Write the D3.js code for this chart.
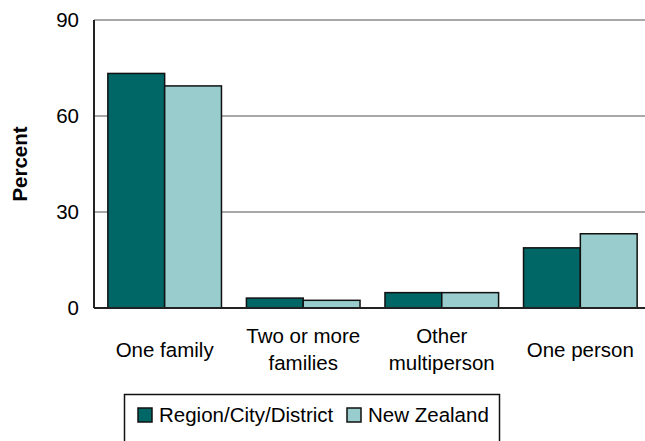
<script src="https://cdnjs.cloudflare.com/ajax/libs/d3/7.8.5/d3.min.js"></script>
<style>
	body {
	  margin: 0;
	  background: white;
	}
	svg text {
	  font-family: Arial, "Liberation Sans", sans-serif;
	  font-size: 20.5px;
	  fill: #000;
	}
</style>

<svg width="645" height="441"></svg>
<script>
	// data
	var categories = [["One family"], ["Two or more", "families"], ["Other", "multiperson"], ["One person"]];
	var seriesNames = ["Region/City/District", "New Zealand"];
	var regionValues = [73.3, 3.1, 4.8, 18.8];
	var nzValues = [69.4, 2.4, 4.8, 23.2];
	var yTicks = [0, 30, 60, 90];
	var colors = ["#006666", "#99cccc"];

	var svg = d3.select("svg");

	var plotLeft = 94, plotRight = 651, plotTop = 20, plotBottom = 308;

	var x = d3.scaleBand()
		.domain(d3.range(categories.length))
		.range([plotLeft, plotRight])
		.paddingInner(0.18)
		.paddingOuter(0.1);

	var xs = d3.scaleBand()
		.domain(d3.range(seriesNames.length))
		.range([0, x.bandwidth()]);

	var y = d3.scaleLinear()
		.domain([0, 90])
		.range([plotBottom, plotTop]);

	// gridlines
	svg.append("g")
		.selectAll("line")
		.data(yTicks.filter(function(d){ return d > 0; }))
		.enter().append("line")
		.attr("x1", plotLeft)
		.attr("x2", 645)
		.attr("y1", function(d){ return y(d); })
		.attr("y2", function(d){ return y(d); })
		.attr("stroke", "#a8a8a8")
		.attr("stroke-width", 2);

	// y axis
	var yAxis = svg.append("g")
		.attr("transform", "translate(" + plotLeft + ",0)")
		.call(d3.axisLeft(y).tickValues(yTicks).tickSize(0).tickPadding(15));
	yAxis.select(".domain").remove();
	yAxis.selectAll("text")
		.style("font-size", "20.5px")
		.style("font-family", "Arial, 'Liberation Sans', sans-serif")
		.attr("fill", "#222");

	svg.append("line")
		.attr("x1", plotLeft).attr("x2", plotLeft)
		.attr("y1", plotTop).attr("y2", plotBottom)
		.attr("stroke", "#222")
		.attr("stroke-width", 2);

	// bars
	var rows = categories.map(function(c, i){ return [regionValues[i], nzValues[i]]; });

	svg.append("g")
		.selectAll("g")
		.data(rows)
		.enter().append("g")
		.attr("transform", function(d, i){ return "translate(" + x(i) + ",0)"; })
		.selectAll("rect")
		.data(function(d){ return d; })
		.enter().append("rect")
		.attr("x", function(d, j){ return xs(j); })
		.attr("y", function(d){ return y(d); })
		.attr("width", xs.bandwidth())
		.attr("height", function(d){ return y(0) - y(d); })
		.attr("fill", function(d, j){ return colors[j]; })
		.attr("stroke", "#111")
		.attr("stroke-width", 1.5);

	// baseline
	svg.append("line")
		.attr("x1", plotLeft).attr("x2", 645)
		.attr("y1", plotBottom).attr("y2", plotBottom)
		.attr("stroke", "#222")
		.attr("stroke-width", 2);

	// category labels
	var labels = svg.append("g")
		.selectAll("text")
		.data(categories)
		.enter().append("text")
		.attr("text-anchor", "middle")
		.attr("x", function(d, i){ return x(i) + x.bandwidth() / 2; })
		.attr("y", function(d){ return d.length > 1 ? 343 : 357; });
	labels.selectAll("tspan")
		.data(function(d){ return d; })
		.enter().append("tspan")
		.attr("x", function(){ return d3.select(this.parentNode).attr("x"); })
		.attr("dy", function(d, k){ return k === 0 ? 0 : 26.5; })
		.text(function(d){ return d; });

	// y title
	svg.append("text")
		.attr("transform", "translate(27," + ((plotTop + plotBottom) / 2) + ") rotate(-90)")
		.attr("text-anchor", "middle")
		.style("font-weight", "bold")
		.text("Percent");

	// legend
	var legend = svg.append("g");
	legend.append("rect")
		.attr("x", 124.5).attr("y", 394.5)
		.attr("width", 375).attr("height", 70)
		.attr("fill", "white")
		.attr("stroke", "#111")
		.attr("stroke-width", 1.5);

	var legendX = [138, 347];
	var items = legend.selectAll("g.item")
		.data(seriesNames)
		.enter().append("g")
		.attr("class", "item")
		.attr("transform", function(d, i){ return "translate(" + legendX[i] + ",0)"; });
	items.append("rect")
		.attr("x", 0).attr("y", 408)
		.attr("width", 14).attr("height", 14)
		.attr("fill", function(d, i){ return colors[i]; })
		.attr("stroke", "#111")
		.attr("stroke-width", 1.5);
	items.append("text")
		.attr("x", 21).attr("y", 422)
		.text(function(d){ return d; });
</script>
